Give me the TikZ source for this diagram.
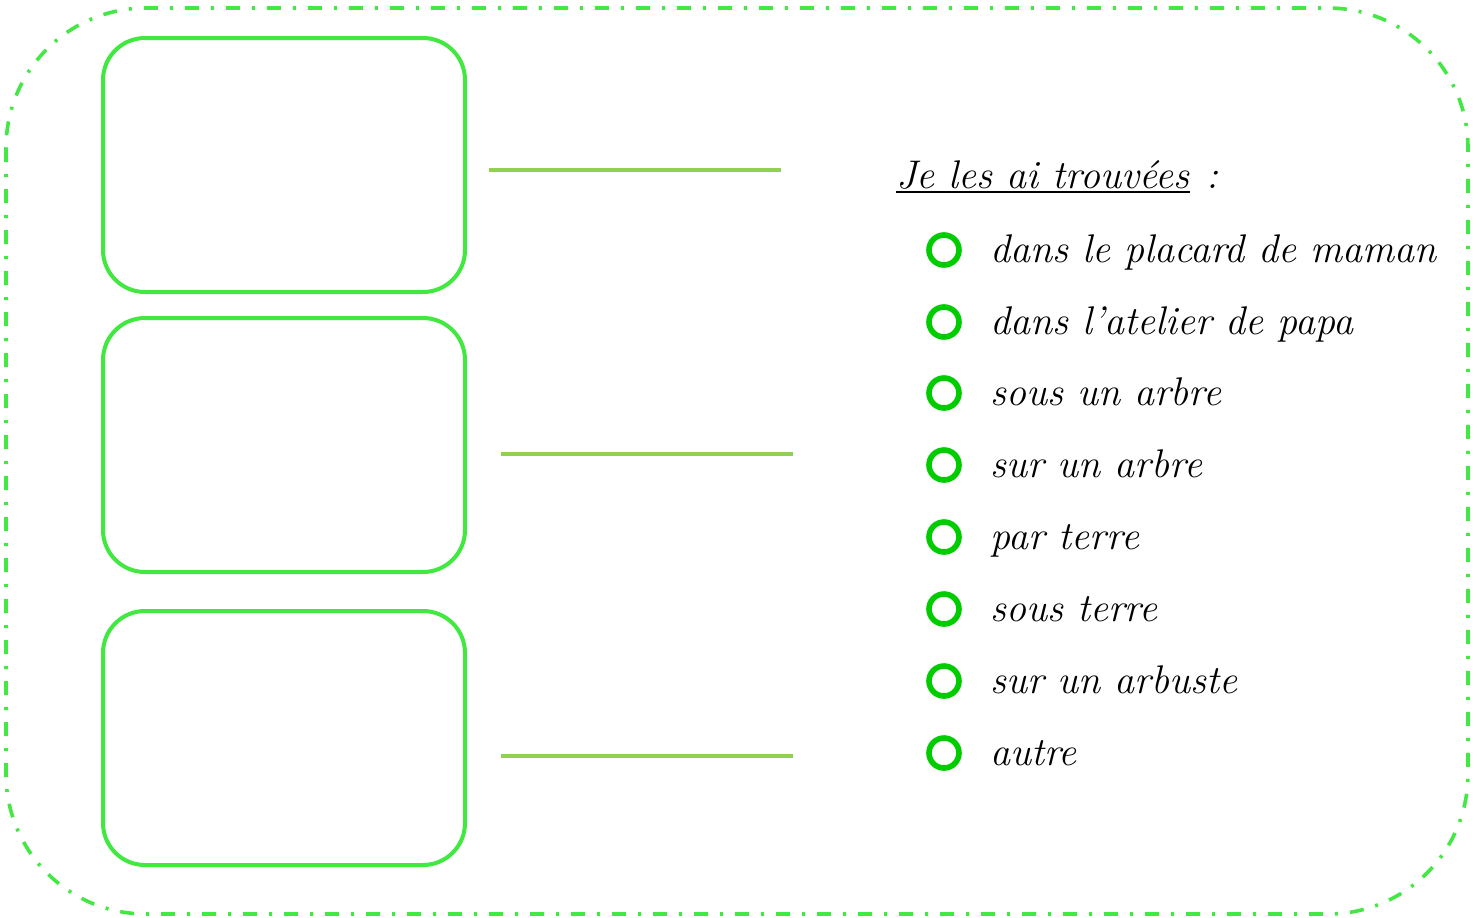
\documentclass[tikz,border=0pt]{standalone}
\usepackage{fontspec}
\definecolor{framegreen}{RGB}{68,232,68}
\definecolor{boxgreen}{RGB}{64,232,64}
\definecolor{linegreen}{RGB}{146,208,80}
\definecolor{ringgreen}{RGB}{0,204,0}
\begin{document}
\begin{tikzpicture}[x=0.5pt,y=-0.5pt,
  frame/.style={draw=framegreen, line width=1.8pt, dash pattern=on 7pt off 6pt on 1.5pt off 6pt, rounded corners=70pt},
  photobox/.style={draw=boxgreen, line width=2pt, rounded corners=21pt, minimum width=181pt, minimum height=127pt, inner sep=0pt},
  answer/.style={draw=linegreen, line width=1.6pt},
  ring/.style={circle, draw=ringgreen, line width=2.8pt, minimum size=15pt, inner sep=0pt},
  item/.style={anchor=base west, inner sep=0pt, font=\fontsize{20}{24}\selectfont\itshape},
  title/.style={anchor=base west, inner sep=0pt, font=\fontsize{20}{24}\selectfont\itshape}]
\useasboundingbox (0,0) rectangle (1478,917);
\draw[frame] (6,8) rectangle (1468,914);
% boxes
\node[photobox] (b1) at (284,165) {};
\node[photobox] (b2) at (284,445) {};
\node[photobox] (b3) at (284,738) {};
% answer lines
\coordinate (l1a) at (489,170); \coordinate (l1b) at (781,170);
\coordinate (l2a) at (501,454); \coordinate (l2b) at (793,454);
\coordinate (l3a) at (501,756); \coordinate (l3b) at (793,756);
\draw[answer] (l1a) -- (l1b);
\draw[answer] (l2a) -- (l2b);
\draw[answer] (l3a) -- (l3b);
% title
\node[title] (t) at (896,188) {Je les ai trouvées};
\node[title] (tc) at (1206,188) {:};
\draw[line width=1.3pt] ([yshift=-2pt]t.base west) -- ([yshift=-2pt]t.base east);
% items
\foreach \y/\txt [count=\i] in {250/dans le placard de maman, 322/dans l’atelier de papa, 393/sous un arbre, 465/sur un arbre, 537/par terre, 609/sous terre, 681/sur un arbuste, 753/autre}{
  \node[ring] (r\i) at (944,\y) {};
  \node[item] (i\i) at (990,\y+12) {\txt};
}
\end{tikzpicture}
\end{document}
